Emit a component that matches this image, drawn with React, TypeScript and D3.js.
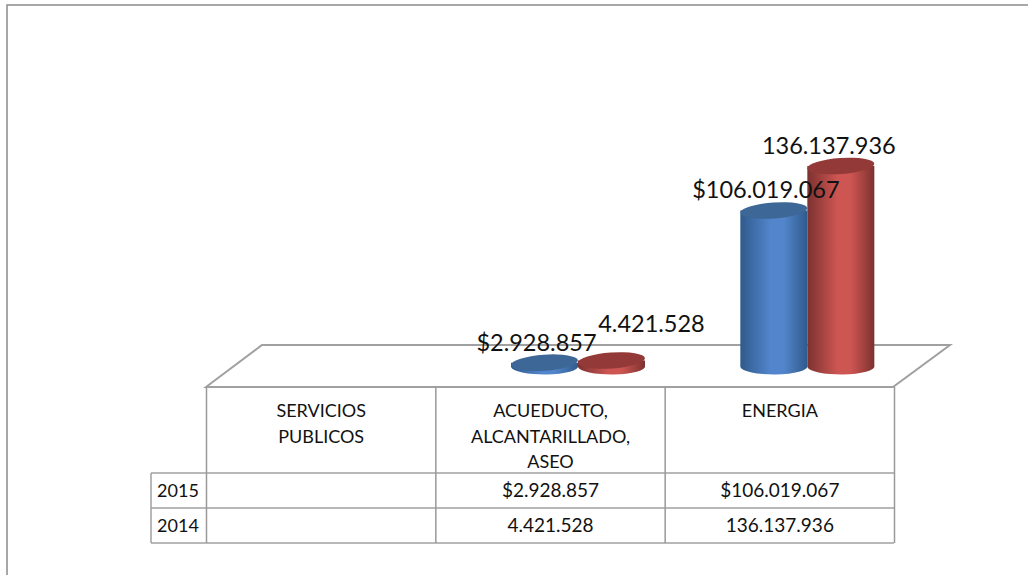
import * as d3 from "d3";

const categories = ["SERVICIOS PUBLICOS", "ACUEDUCTO, ALCANTARILLADO, ASEO", "ENERGIA"];
const categoryLines = [["SERVICIOS", "PUBLICOS"], ["ACUEDUCTO,", "ALCANTARILLADO,", "ASEO"], ["ENERGIA"]];
const years = ["2015", "2014"];
const values2015 = [null, 2928857, 106019067];
const values2014 = [null, 4421528, 136137936];
const labels2015 = ["", "$2.928.857", "$106.019.067"];
const labels2014 = ["", "4.421.528", "136.137.936"];

const FONT = "Lato, 'Noto Sans', sans-serif";
const floor = { left: 206, right: 893, front: 387, back: 345, skew: 57 };
const tableX = 151;
const rowY = [387, 473, 508, 543];
const baseY = 367;
const barW = 67;
const ry = 8;
const tilt = -4;

// label nudges by hand, label placement in the original does not follow the bars
const labelDx = [
  [0, -8, -8],
  [0, 40, -12],
];
const labelDy = [
  [0, -12, -12],
  [0, -28.5, -12],
];

const x = d3.scaleBand<string>().domain(categories).range([floor.left + 0.5, floor.right + 1.5]);
const y = d3.scaleLinear().domain([0, 136137936]).range([baseY, 166]);
const series = d3.scaleBand<string>().domain(years).range([-67, 67]);

const palettes = [
  { id: "b", edge: "#2f5a8c", mid: "#5285cb", top: "#3d6797" },
  { id: "r", edge: "#7c3230", mid: "#cd5552", top: "#933a38" },
];

export default function App() {
  const tableLines = d3.range(4).map((i) => x.range()[0] + x.step() * i);
  const rows = [values2015, values2014];
  const labels = [labels2015, labels2014];
  const bandMid = (c: number) => x(categories[c])! + x.bandwidth() / 2;

  return (
    <svg width={1028} height={575} style={{ position: "absolute", left: 0, top: 0 }}>
      <defs>
        {palettes.map((p) => (
          <linearGradient key={p.id} id={`grad-${p.id}`} x1="0" x2="1" y1="0" y2="0">
            <stop offset="0" stopColor={p.edge} />
            <stop offset="0.45" stopColor={p.mid} />
            <stop offset="0.65" stopColor={p.mid} />
            <stop offset="1" stopColor={p.edge} />
          </linearGradient>
        ))}
      </defs>
      <rect width={1028} height={575} fill="#fff" />
      <path d="M7,575V5H1028" fill="none" stroke="#8a8a8a" strokeWidth={1.5} />

      <path
        d={`M${floor.left},${floor.front}L${floor.left + floor.skew - 1},${floor.back}H${floor.right + floor.skew}L${floor.right},${floor.front}Z`}
        fill="#fff"
        stroke="#a0a0a0"
        strokeWidth={2}
      />

      {rowY.slice(1).map((r) => (
        <line key={r} x1={tableX} x2={floor.right + 1} y1={r} y2={r} stroke="#a0a0a0" strokeWidth={1.5} />
      ))}
      <line x1={tableX} x2={tableX} y1={rowY[1]} y2={rowY[3]} stroke="#a0a0a0" strokeWidth={1.5} />
      {tableLines.map((tx) => (
        <line key={tx} x1={tx} x2={tx} y1={rowY[0]} y2={rowY[3]} stroke="#999" strokeWidth={1.5} />
      ))}

      {rows.map((vals, s) =>
        vals.map((v, c) => {
          if (v == null) return null;
          const p = palettes[s];
          const x0 = bandMid(c) + floor.skew / 2 - 1 + series(years[s])!;
          const top = y(v);
          const cx = x0 + barW / 2;
          const rx = barW / 2;
          return (
            <g key={`${s}-${c}`}>
              <path
                d={`M${x0},${top}V${baseY}A${rx},${ry} 0 0 0 ${x0 + barW},${baseY - 1}V${top}Z`}
                fill={`url(#grad-${p.id})`}
              />
              <ellipse cx={cx} cy={top} rx={rx} ry={ry} fill={p.top} transform={`rotate(${tilt} ${cx} ${top})`} />
            </g>
          );
        })
      )}

      <g fontFamily={FONT} fill="#111" fontSize={23.5}>
        {rows.map((vals, s) =>
          vals.map((v, c) =>
            v == null ? null : (
              <text
                key={`${s}-${c}`}
                textAnchor="middle"
                x={bandMid(c) + floor.skew / 2 - 1 + series(years[s])! + barW / 2 + labelDx[s][c]}
                y={y(v) + labelDy[s][c]}
              >
                {labels[s][c]}
              </text>
            )
          )
        )}
      </g>

      <g fontFamily={FONT} fill="#111" textAnchor="middle">
        {categoryLines.map((lines, c) =>
          lines.map((line, i) => (
            <text key={line} fontSize={18} x={bandMid(c)} y={417 + i * 25.5}>
              {line}
            </text>
          ))
        )}
        {years.map((yr, s) => (
          <g key={yr}>
            <text fontSize={18} x={(tableX + floor.left) / 2 - 0.5} y={rowY[s + 1] + 24}>
              {yr}
            </text>
            {labels[s].map((l, c) => (
              <text key={c} fontSize={19} x={bandMid(c)} y={rowY[s + 1] + 24}>
                {l}
              </text>
            ))}
          </g>
        ))}
      </g>
    </svg>
  );
}
